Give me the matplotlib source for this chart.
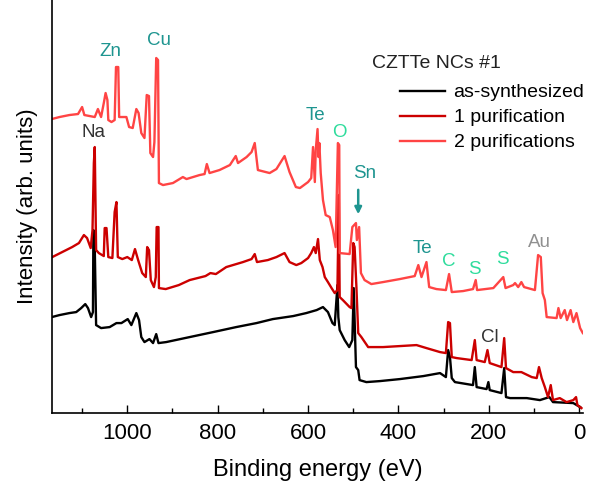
import matplotlib
matplotlib.use("Agg")
import matplotlib.pyplot as plt
from matplotlib.ticker import MultipleLocator

plt.rcParams["font.family"] = ["Liberation Sans", "DejaVu Sans"]

# XPS survey spectra, binding energy (eV) vs intensity (arb. units, offset traces)
as_synth_ev = [1167, 1150, 1128, 1113, 1102, 1093, 1087, 1080, 1076, 1075, 1072, 1069, 1058,
               1039, 1024, 1013, 999, 991, 980, 974, 969, 962, 951, 943, 936, 931, 914, 862,
               810, 759, 714, 678, 633, 604, 581, 567, 556, 546, 541, 535, 533, 530, 519, 509,
               502, 499, 494, 489, 486, 471, 441, 397, 345, 308, 295, 290, 286, 282, 275, 235,
               231, 227, 205, 201, 198, 172, 166, 162, 153, 116, 87, 66, 58, 13, -2]
as_synth_int = [96, 98, 100, 101, 105, 109, 105, 96, 101, 183, 166, 88, 85,
                86, 90, 90, 94, 88, 100, 93, 76, 71, 74, 70, 79, 70, 71, 76,
                81, 86, 90, 94, 97, 100, 103, 106, 101, 90, 88, 128, 96, 83, 73, 66,
                73, 125, 46, 43, 33, 31, 32, 34, 37, 40, 36, 63, 56, 35, 31, 28,
                46, 26, 24, 31, 23, 20, 45, 16, 15, 15, 13, 16, 11, 10, 6]

pur1_ev = [1166, 1144, 1122, 1107, 1096, 1089, 1081, 1077, 1074, 1072, 1069, 1063, 1052, 1050,
           1046, 1042, 1033, 1028, 1024, 1021, 1011, 1000, 990, 983, 976, 967, 959, 956, 952,
           948, 941, 937, 935, 931, 930, 915, 886, 862, 827, 816, 804, 781, 744, 725, 718, 713,
           689, 670, 652, 641, 626, 615, 600, 593, 587, 583, 578, 574, 568, 563, 556, 548, 541,
           535, 532, 530, 523, 508, 504, 500, 497, 493, 489, 482, 467, 434, 360, 338, 308, 295,
           290, 286, 282, 271, 238, 231, 227, 209, 203, 198, 172, 166, 162, 146, 128, 105, 94,
           89, 83, 76, 69, 63, 58, 43, 28, 13, 7, 4, -5]
pur1_int = [156, 161, 166, 170, 178, 175, 165, 183, 250, 266, 163, 160, 157, 185,
            185, 156, 155, 201, 211, 156, 154, 156, 153, 164, 153, 140, 136, 166, 163,
            133, 126, 136, 186, 186, 125, 124, 128, 133, 137, 140, 139, 146, 151, 154, 159, 151,
            153, 156, 160, 151, 148, 150, 155, 160, 166, 160, 174, 153, 146, 136, 131, 125, 120,
            123, 218, 116, 113, 106, 105, 170, 166, 126, 80, 76, 66, 66, 68, 65, 61, 60,
            91, 90, 56, 55, 53, 73, 53, 51, 63, 50, 46, 75, 45, 41, 41, 36, 35,
            46, 35, 26, 16, 28, 13, 15, 11, 13, 16, 8, 5]

pur2_ev = [1167, 1150, 1128, 1109, 1100, 1095, 1072, 1065, 1058, 1052, 1048, 1044, 1042, 1035,
           1028, 1025, 1020, 1018, 1002, 996, 988, 980, 975, 969, 962, 957, 952, 949, 943, 940,
           936, 932, 930, 921, 899, 877, 869, 840, 829, 824, 818, 796, 773, 760, 755, 736, 725,
           718, 711, 685, 670, 652, 641, 627, 618, 600, 593, 589, 585, 583, 579, 577, 575, 572,
           567, 561, 552, 545, 539, 534, 531, 530, 508, 502, 494, 492, 487, 483, 475, 460, 434,
           397, 364, 356, 349, 338, 332, 316, 295, 288, 282, 257, 235, 229, 226, 190, 168, 163,
           146, 142, 135, 128, 122, 98, 91, 85, 81, 76, 72, 50, 46, 41, 32, 27, 19, 13, 6,
           -2, -8]
pur2_int = [294, 296, 298, 299, 306, 298, 296, 304, 296, 310, 320, 313, 293, 291,
            293, 346, 346, 296, 296, 286, 285, 304, 300, 280, 275, 318, 317, 260, 256, 271,
            355, 353, 230, 228, 230, 236, 234, 238, 239, 249, 240, 243, 248, 257, 250, 256, 261,
            270, 243, 240, 244, 257, 241, 226, 225, 231, 235, 266, 231, 263, 284, 256, 270, 240,
            213, 198, 196, 183, 166, 270, 268, 160, 159, 186, 190, 173, 186, 140, 133, 129, 131,
            134, 137, 148, 136, 151, 126, 124, 123, 139, 121, 122, 124, 133, 123, 125, 136, 125,
            128, 130, 126, 131, 126, 123, 158, 156, 120, 113, 96, 95, 105, 95, 103, 93, 103, 91, 100,
            85, 80]

series_labels = ["as-synthesized", "1 purification", "2 purifications"]
series_colors = ["#000000", "#cc0000", "#ff4444"]

# peak labels: (text, eV, intensity, colour)
TEAL = "#1e9590"
MINT = "#2edc9c"
peak_labels = [
    ("Zn", 1038, 362, TEAL), ("Cu", 931, 373, TEAL), ("Na", 1075, 281, "#333333"),
    ("Te", 583, 298, TEAL), ("O", 531, 281, MINT), ("Sn", 475, 240, TEAL),
    ("Te", 348, 165, TEAL), ("C", 289, 152, MINT), ("S", 231, 144, MINT),
    ("S", 169, 154, MINT), ("Au", 87, 171, "#909090"), ("Cl", 197, 76, "#333333"),
]

fig = plt.figure(figsize=(5.9, 4.86), dpi=100)
ax = fig.add_axes([0.0886, 0.150, 0.900, 0.850])

for ev, inten, lab, col in zip([as_synth_ev, pur1_ev, pur2_ev],
                               [as_synth_int, pur1_int, pur2_int],
                               series_labels, series_colors):
    ax.plot(ev, inten, color=col, lw=1.7, label=lab)

for txt, x, y, col in peak_labels:
    ax.text(x, y, txt, color=col, fontsize=13.5, ha="center", va="center")

# arrow pointing at the Sn peak
ax.annotate("", xy=(489, 196), xytext=(489, 226),
            arrowprops=dict(arrowstyle="-|>", color=TEAL, lw=1.8, mutation_scale=10))

ax.set_xlim(1166, -9)
ax.set_ylim(0, 413)
ax.xaxis.set_major_locator(MultipleLocator(200))
ax.xaxis.set_minor_locator(MultipleLocator(100))
ax.tick_params(axis="x", which="major", direction="in", length=6, width=1, labelsize=16, pad=7)
ax.tick_params(axis="x", which="minor", direction="in", length=3.5, width=1)
ax.set_yticks([])
ax.spines["top"].set_visible(False)
ax.spines["right"].set_visible(False)
for s in ("left", "bottom"):
    ax.spines[s].set_linewidth(1.2)

ax.set_xlabel("Binding energy (eV)", fontsize=17, labelpad=11)
ax.set_ylabel("Intensity (arb. units)", fontsize=16, labelpad=10)

ax.text(0.724, 0.847, "CZTTe NCs #1", transform=ax.transAxes, fontsize=14,
        ha="center", va="center", color="#222222")
ax.legend(loc="upper left", bbox_to_anchor=(0.655, 0.797), frameon=False, fontsize=14,
          borderpad=0, borderaxespad=0, handlelength=2.3, handletextpad=0.45,
          labelspacing=0.38)

fig.savefig("out.png", dpi=100, facecolor="white")
plt.close(fig)
